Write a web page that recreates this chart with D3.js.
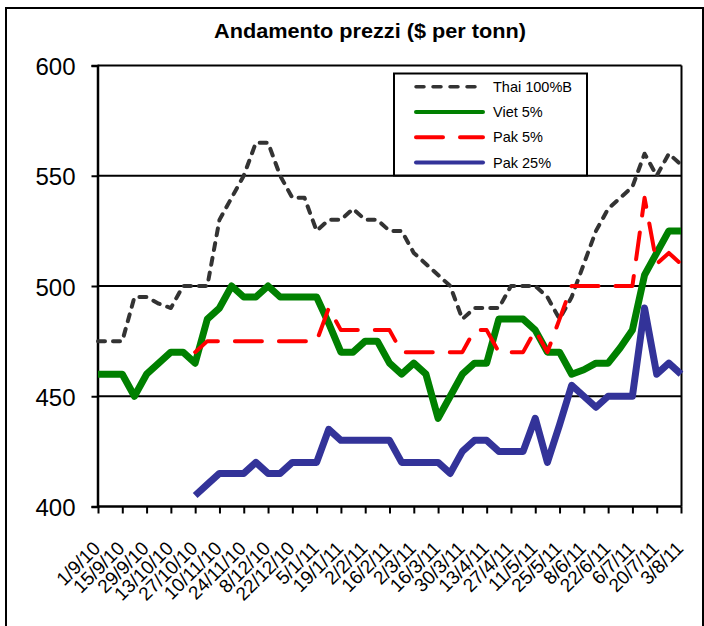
<!DOCTYPE html>
<html>
<head>
<meta charset="utf-8">
<script src="https://cdn.jsdelivr.net/npm/d3@7"></script>
<style>
  body { margin: 0; background: #fff; }
  svg { display: block; font-family: "Liberation Sans", Arial, sans-serif; }
</style>
</head>
<body>
<svg id="grafico" width="704" height="626"></svg>
<script>
// etichette asse x (ogni due settimane)
const tickLabels = ["1/9/10","15/9/10","29/9/10","13/10/10","27/10/10","10/11/10","24/11/10",
  "8/12/10","22/12/10","5/1/11","19/1/11","2/2/11","16/2/11","2/3/11","16/3/11","30/3/11",
  "13/4/11","27/4/11","11/5/11","25/5/11","8/6/11","22/6/11","6/7/11","20/7/11","3/8/11"];

// prezzi settimanali (49 settimane)
const thai100B = [475,475,475,495,495,492,490,500,500,500,530,540,550,565,565,550,540,540,525,530,
  530,535,530,530,525,525,515,510,505,500,485,490,490,490,500,500,500,495,485,495,
  510,525,535,540,545,560,550,560,555];
const viet5 = [460,460,460,450,460,465,470,470,465,485,490,500,495,495,500,495,495,495,495,483,
  470,470,475,475,465,460,465,460,440,450,460,465,465,485,485,485,480,470,470,460,
  462,465,465,472,480,505,515,525,525];
const pak5 = [null,null,null,null,null,null,null,null,470,475,475,475,475,475,475,475,475,475,475,490,
  480,480,480,480,480,470,470,470,470,470,470,480,480,470,470,470,480,470,485,500,
  500,500,500,500,500,540,510,515,510];
const pak25 = [null,null,null,null,null,null,null,null,405,410,415,415,415,420,415,415,420,420,420,435,
  430,430,430,430,430,420,420,420,420,415,425,430,430,425,425,425,440,420,437,455,
  450,445,450,450,450,490,460,465,460];

const serie = [
  { nome: "Thai 100%B", valori: thai100B, colore: "#333333", w: 4,   dash: "7,8",  lw: 3.5, ldash: "8,9" },
  { nome: "Viet 5%",    valori: viet5,    colore: "#008000", w: 7,   dash: null,   lw: 4,   ldash: null },
  { nome: "Pak 5%",     valori: pak5,     colore: "#ff0000", w: 4,   dash: "27,17", lw: 4,  ldash: "27,17" },
  { nome: "Pak 25%",    valori: pak25,    colore: "#333399", w: 7,   dash: null,   lw: 4,   ldash: null }
];

const yTicks = [400, 450, 500, 550, 600];

const $svg = d3.select("#grafico");

// area del grafico
const AREA = { left: 97.5, right: 681.5, top: 65.5, bottom: 506.5 };

const x = d3.scaleLinear().domain([0, thai100B.length - 1]).range([98, 681]);
const y = d3.scaleLinear().domain([400, 600]).range([AREA.bottom, AREA.top]);

// cornice esterna
$svg.append("rect")
  .attr("x", 6).attr("y", 8)
  .attr("width", 697).attr("height", 640)
  .attr("fill", "none").attr("stroke", "#000").attr("stroke-width", 2);

// titolo
$svg.append("text")
  .attr("x", 370).attr("y", 38)
  .attr("text-anchor", "middle")
  .attr("font-size", 20).attr("font-weight", "bold")
  .attr("textLength", 312).attr("lengthAdjust", "spacingAndGlyphs")
  .text("Andamento prezzi ($ per tonn)");

// griglia
$svg.append("g")
  .selectAll("line")
  .data(yTicks.filter(d => d > 400))
  .join("line")
  .attr("x1", AREA.left).attr("x2", AREA.right)
  .attr("y1", d => y(d)).attr("y2", d => y(d))
  .attr("stroke", "#000").attr("stroke-width", 2);

// bordo destro
$svg.append("line")
  .attr("x1", AREA.right).attr("x2", AREA.right)
  .attr("y1", AREA.top).attr("y2", AREA.bottom)
  .attr("stroke", "#000").attr("stroke-width", 2);

// asse y
const yAxis = d3.axisLeft(y).tickValues(yTicks).tickSize(6).tickPadding(16);
const $gy = $svg.append("g")
  .attr("transform", `translate(${AREA.left},0)`)
  .call(yAxis);
$gy.select(".domain").attr("stroke-width", 2.5);
$gy.selectAll(".tick line").attr("stroke-width", 2);
$gy.selectAll(".tick text")
  .attr("font-size", 24)
  .attr("font-family", "Liberation Sans, Arial, sans-serif")
  .attr("dy", "0.38em")
  .attr("fill", "#000");

// asse x
const xTickVals = d3.range(0, thai100B.length, 2);
const xAxis = d3.axisBottom(x).tickValues(xTickVals).tickSize(7)
  .tickFormat((d, i) => tickLabels[i]);
const $gx = $svg.append("g")
  .attr("transform", `translate(0,${AREA.bottom})`)
  .call(xAxis);
$gx.select(".domain").attr("stroke-width", 2.5).attr("d", `M${AREA.left},0H${AREA.right}`);
$gx.selectAll(".tick line").attr("stroke-width", 2);
$gx.selectAll(".tick text")
  .attr("font-size", 19)
  .attr("font-family", "Liberation Sans, Arial, sans-serif")
  .attr("fill", "#000")
  .attr("text-anchor", "end")
  .attr("dy", null)
  .attr("y", null)
  .attr("transform", "translate(3,43) rotate(-45)");

// linee
const linea = d3.line()
  .defined(d => d != null)
  .x((d, i) => x(i))
  .y(d => y(d));

$svg.append("g")
  .selectAll("path")
  .data(serie)
  .join("path")
  .attr("d", d => linea(d.valori))
  .attr("fill", "none")
  .attr("stroke", d => d.colore)
  .attr("stroke-width", d => d.w)
  .attr("stroke-dasharray", d => d.dash)
  .attr("stroke-linecap", d => d.dash ? "round" : "butt")
  .attr("stroke-linejoin", "round");

// legenda
const $leg = $svg.append("g");
$leg.append("rect")
  .attr("x", 394).attr("y", 73.5)
  .attr("width", 193).attr("height", 102)
  .attr("fill", "#fff").attr("stroke", "#000").attr("stroke-width", 2);

const $items = $leg.selectAll("g.item")
  .data(serie)
  .join("g")
  .classed("item", true)
  .attr("transform", (d, i) => `translate(0,${86.7 + i * 25.3})`);

$items.append("line")
  .attr("x1", 416).attr("x2", 483)
  .attr("stroke", d => d.colore)
  .attr("stroke-width", d => d.lw)
  .attr("stroke-dasharray", d => d.ldash)
  .attr("stroke-linecap", "round");

$items.append("text")
  .attr("x", 493).attr("y", 5)
  .attr("font-size", 14.5)
  .text(d => d.nome);
</script>
</body>
</html>
